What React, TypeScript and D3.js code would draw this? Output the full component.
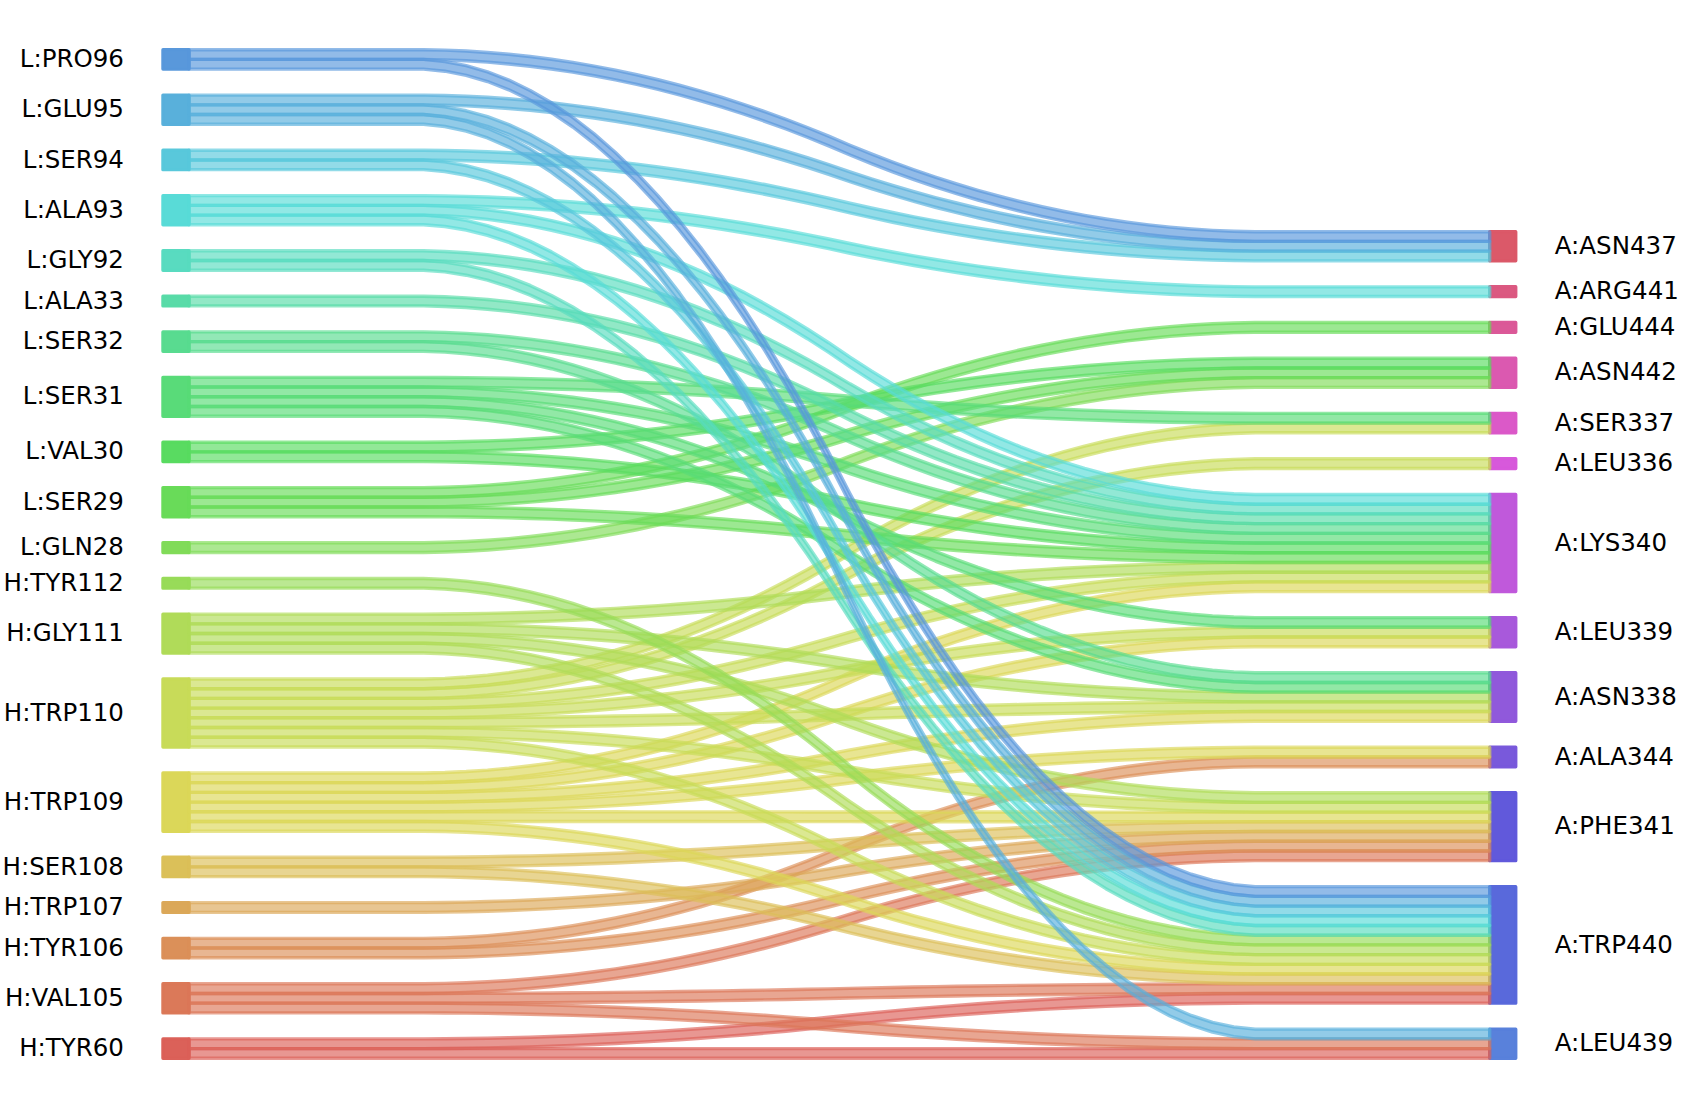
import React from 'react';
import * as d3 from 'd3';

// Node labels, listed top -> bottom as displayed
const leftLabels = [
  'L:PRO96', 'L:GLU95', 'L:SER94', 'L:ALA93', 'L:GLY92', 'L:ALA33', 'L:SER32',
  'L:SER31', 'L:VAL30', 'L:SER29', 'L:GLN28', 'H:TYR112', 'H:GLY111', 'H:TRP110',
  'H:TRP109', 'H:SER108', 'H:TRP107', 'H:TYR106', 'H:VAL105', 'H:TYR60',
];
const rightLabels = [
  'A:ASN437', 'A:ARG441', 'A:GLU444', 'A:ASN442', 'A:SER337', 'A:LEU336',
  'A:LYS340', 'A:LEU339', 'A:ASN338', 'A:ALA344', 'A:PHE341', 'A:TRP440', 'A:LEU439',
];

// Contacts (antibody residue -> antigen residue), each weight 1
const contacts: [string, string][] = [
  ['L:PRO96', 'A:ASN437'], ['L:PRO96', 'A:TRP440'],
  ['L:GLU95', 'A:ASN437'], ['L:GLU95', 'A:TRP440'], ['L:GLU95', 'A:LEU439'],
  ['L:SER94', 'A:ASN437'], ['L:SER94', 'A:TRP440'],
  ['L:ALA93', 'A:ARG441'], ['L:ALA93', 'A:LYS340'], ['L:ALA93', 'A:TRP440'],
  ['L:GLY92', 'A:LYS340'], ['L:GLY92', 'A:TRP440'],
  ['L:ALA33', 'A:LYS340'],
  ['L:SER32', 'A:LYS340'], ['L:SER32', 'A:ASN338'],
  ['L:SER31', 'A:SER337'], ['L:SER31', 'A:LYS340'], ['L:SER31', 'A:LEU339'], ['L:SER31', 'A:ASN338'],
  ['L:VAL30', 'A:ASN442'], ['L:VAL30', 'A:LYS340'],
  ['L:SER29', 'A:GLU444'], ['L:SER29', 'A:ASN442'], ['L:SER29', 'A:LYS340'],
  ['L:GLN28', 'A:ASN442'],
  ['H:TYR112', 'A:TRP440'],
  ['H:GLY111', 'A:LYS340'], ['H:GLY111', 'A:ASN338'], ['H:GLY111', 'A:PHE341'], ['H:GLY111', 'A:TRP440'],
  ['H:TRP110', 'A:SER337'], ['H:TRP110', 'A:LEU336'], ['H:TRP110', 'A:LYS340'], ['H:TRP110', 'A:LEU339'],
  ['H:TRP110', 'A:ASN338'], ['H:TRP110', 'A:PHE341'], ['H:TRP110', 'A:TRP440'],
  ['H:TRP109', 'A:LYS340'], ['H:TRP109', 'A:LEU339'], ['H:TRP109', 'A:ASN338'], ['H:TRP109', 'A:ALA344'],
  ['H:TRP109', 'A:PHE341'], ['H:TRP109', 'A:TRP440'],
  ['H:SER108', 'A:PHE341'], ['H:SER108', 'A:TRP440'],
  ['H:TRP107', 'A:PHE341'],
  ['H:TYR106', 'A:ALA344'], ['H:TYR106', 'A:PHE341'],
  ['H:VAL105', 'A:PHE341'], ['H:VAL105', 'A:TRP440'], ['H:VAL105', 'A:LEU439'],
  ['H:TYR60', 'A:TRP440'], ['H:TYR60', 'A:LEU439'],
];

const W = 1681;
const H = 1108;

function smoothStep(a: number, b: number): number[] {
  const ys: number[] = [];
  for (let i = 0; i < 50; i++) ys.push(a);
  for (let i = 0; i < 50; i++) ys.push(b);
  const conv = (arr: number[]) => {
    const out: number[] = [];
    for (let i = 0; i + 20 <= arr.length; i++) {
      let s = 0;
      for (let j = 0; j < 20; j++) s += arr[i + j];
      out.push(0.05 * s);
    }
    return out;
  };
  return conv(conv(ys));
}

export default function App() {
  const pad = 2.6777;
  const leftOrder = [...leftLabels].reverse(); // bottom first
  const rightOrder = [...rightLabels].reverse();
  const weight = (l: string, r: string) =>
    contacts.filter((c) => c[0] === l && c[1] === r).length;

  const stack = (order: string[], side: 0 | 1) => {
    const res: Record<string, { bottom: number; size: number }> = {};
    let cur = 0;
    order.forEach((lab, i) => {
      const size = contacts.filter((c) => c[side] === lab).length;
      if (i > 0) cur += pad;
      res[lab] = { bottom: cur, size };
      cur += size;
    });
    return { res, top: cur };
  };
  const L = stack(leftOrder, 0);
  const R = stack(rightOrder, 1);

  const y = d3.scaleLinear().domain([0, L.top]).range([1058.3, 49.7]);
  const x = d3.scaleLinear().domain([0, 1]).range([189, 1489.7]);
  const xi = d3.scaleLinear().domain([0, 61]).range([0, 1]);

  // colour palette: seaborn-like hls, left labels (bottom first) then right labels
  const allLabels = [...leftOrder, ...rightOrder];
  const colorOf: Record<string, string> = {};
  allLabels.forEach((lab, i) => {
    const h = ((i / allLabels.length + 0.01) % 1) * 360;
    colorOf[lab] = d3.hsl(h, 0.65, 0.6).formatHex();
  });

  const lb: Record<string, number> = {};
  const rb: Record<string, number> = {};
  leftOrder.forEach((l) => (lb[l] = L.res[l].bottom));
  rightOrder.forEach((r) => (rb[r] = R.res[r].bottom));

  const strips: { d: string; color: string; key: string }[] = [];
  const area = d3
    .area<[number, number]>()
    .x((_, i) => x(xi(i)))
    .y0((d) => y(d[0]))
    .y1((d) => y(d[1]));
  leftOrder.forEach((l) => {
    rightOrder.forEach((r) => {
      const w = weight(l, r);
      if (w > 0) {
        const yd = smoothStep(lb[l], rb[r]);
        const yu = smoothStep(lb[l] + w, rb[r] + w);
        lb[l] += w;
        rb[r] += w;
        const pts: [number, number][] = yd.map((v, i) => [v, yu[i]]);
        strips.push({ d: area(pts) || '', color: colorOf[l], key: l + r });
      }
    });
  });

  const sw = 3.4;
  const font = "'DejaVu Sans', sans-serif";
  const fs = 24.5;

  return (
    <svg
      width={W}
      height={H}
      style={{ position: 'absolute', left: 0, top: 0, display: 'block', background: '#fff' }}
    >
      <rect x={0} y={0} width={W} height={H} fill="#ffffff" />
      {leftOrder.map((l) => {
        const n = L.res[l];
        return (
          <g key={l}>
            <rect
              x={x(-0.02)}
              y={y(n.bottom + n.size)}
              width={x(0) - x(-0.02)}
              height={y(n.bottom) - y(n.bottom + n.size)}
              fill={colorOf[l]}
              fillOpacity={0.99}
              stroke={colorOf[l]}
              strokeOpacity={0.99}
              strokeWidth={sw}
              strokeLinejoin="round"
            />
            <text
              x={x(-0.05)}
              y={y(n.bottom + n.size / 2)}
              dy="0.31em"
              textAnchor="end"
              fontFamily={font}
              fontSize={fs}
              fill="#000"
            >
              {l}
            </text>
          </g>
        );
      })}
      {rightOrder.map((r) => {
        const n = R.res[r];
        return (
          <g key={r}>
            <rect
              x={x(1)}
              y={y(n.bottom + n.size)}
              width={x(1.02) - x(1)}
              height={y(n.bottom) - y(n.bottom + n.size)}
              fill={colorOf[r]}
              fillOpacity={0.99}
              stroke={colorOf[r]}
              strokeOpacity={0.99}
              strokeWidth={sw}
              strokeLinejoin="round"
            />
            <text
              x={x(1.05)}
              y={y(n.bottom + n.size / 2)}
              dy="0.31em"
              textAnchor="start"
              fontFamily={font}
              fontSize={fs}
              fill="#000"
            >
              {r}
            </text>
          </g>
        );
      })}
      {strips.map((s) => (
        <path
          key={s.key}
          d={s.d}
          fill={s.color}
          fillOpacity={0.65}
          stroke={s.color}
          strokeOpacity={0.65}
          strokeWidth={sw}
          strokeLinejoin="round"
        />
      ))}
    </svg>
  );
}
